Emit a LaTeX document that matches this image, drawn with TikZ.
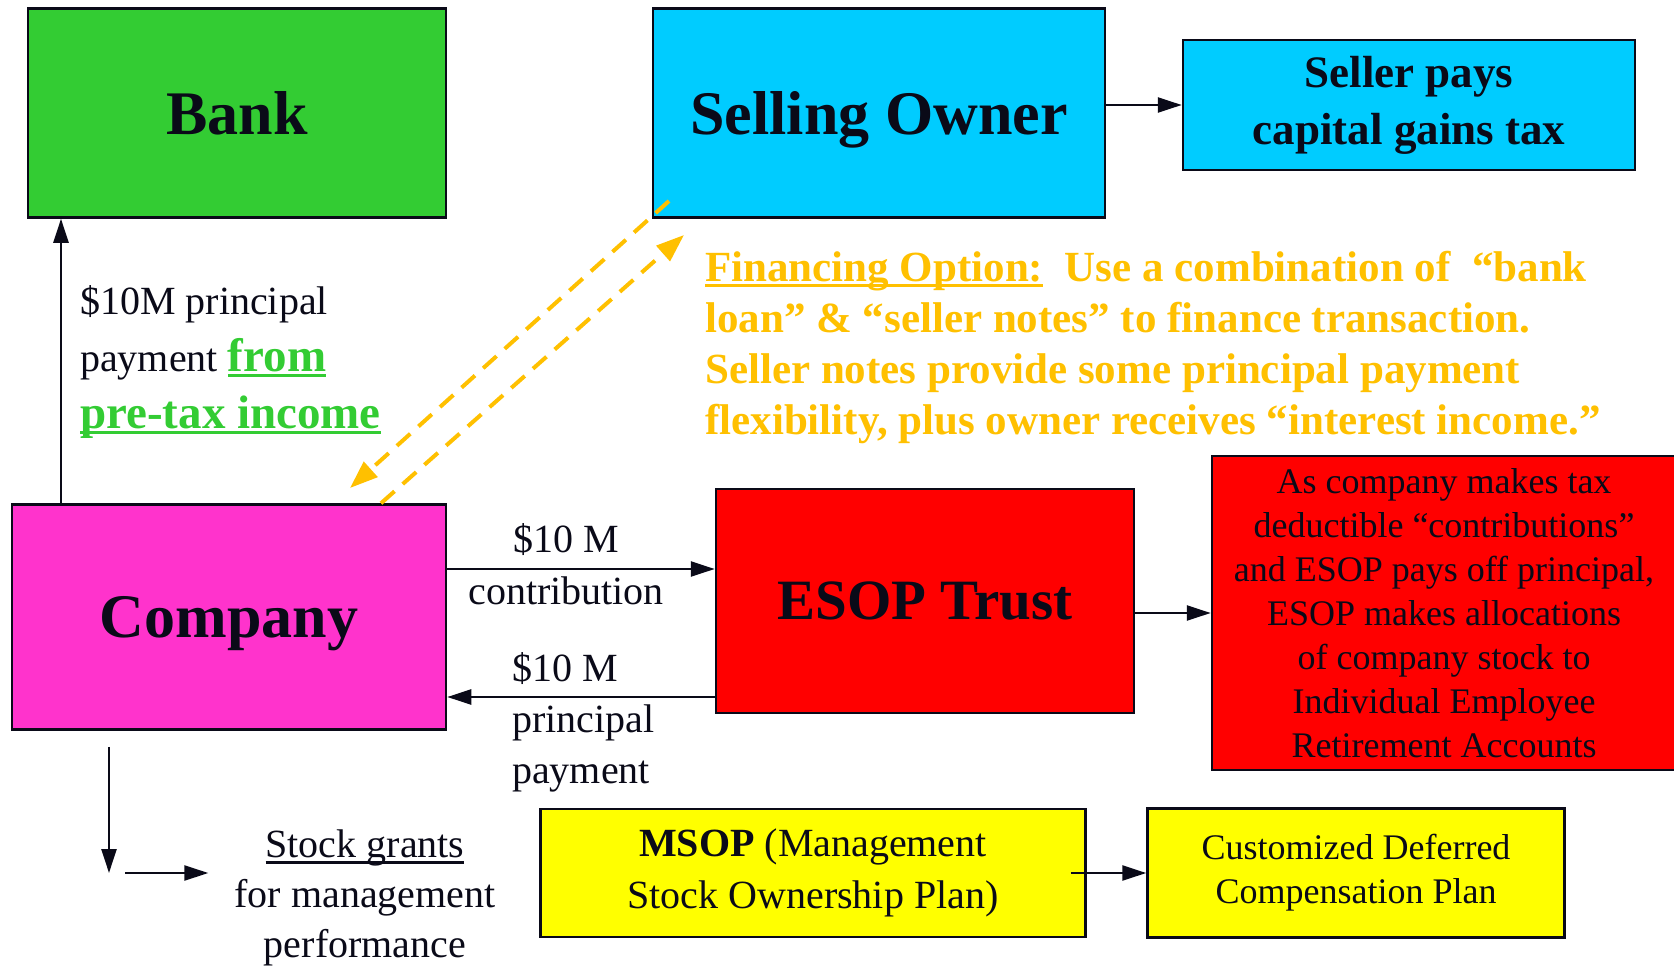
\documentclass[tikz,border=0pt]{standalone}
\usepackage{fontspec}
\setmainfont{Liberation Serif}
\usetikzlibrary{arrows.meta}

\definecolor{bankgreen}{HTML}{33CC33}
\definecolor{ownercyan}{HTML}{00CCFF}
\definecolor{companypink}{HTML}{FF33CC}
\definecolor{esopred}{HTML}{FF0000}
\definecolor{planyellow}{HTML}{FFFF00}
\definecolor{optiongold}{HTML}{FFC000}
\definecolor{inkdark}{HTML}{0A0A18}

% thick underline that cuts through the descenders
\newcommand{\undr}[1]{\setbox0\hbox{#1}\rlap{\rule[-6pt]{\wd0}{3pt}}\box0}

\newcommand{\fs}[2]{\fontsize{#1}{#2}\selectfont}

\begin{document}
\begin{tikzpicture}[x=1pt,y=-1pt,
    box/.style={draw=inkdark,line width=2.5pt,inner sep=0pt,align=center,text=inkdark},
    title/.style={box,text depth=0pt,font=\bfseries\fs{62}{70}},
    flow/.style={-{Triangle[length=24pt,width=15pt]},line width=2.5pt,draw=inkdark},
    loan/.style={-{Triangle[length=28pt,width=20pt]},line width=4pt,draw=optiongold,dash pattern=on 18pt off 11pt},
    note/.style={inner sep=0pt,text=inkdark}]

    \useasboundingbox (0,0) rectangle (1674,974);

    % Boxes
    \node[title,fill=bankgreen,minimum width=418pt,minimum height=209pt] (bank) at (237,113) {Bank};
    \node[title,fill=ownercyan,minimum width=452pt,minimum height=209pt] (owner) at (879,113) {Selling Owner};
    \node[box,fill=ownercyan,minimum width=452pt,minimum height=130pt,font=\bfseries\fs{45}{57}] (taxbox) at (1409,105) {Seller pays\\capital gains tax};
    \node[title,fill=companypink,minimum width=434pt,minimum height=225pt] (company) at (229,617) {Company};
    \node[title,fill=esopred,minimum width=418pt,minimum height=224pt,font=\bfseries\fs{57}{66}] (esop) at (925,601) {ESOP Trust};
    \node[box,fill=esopred,minimum width=464pt,minimum height=314pt,font=\fs{36}{44}] (alloc) at (1444,613)
        {As company makes tax\\deductible ``contributions''\\and ESOP pays off principal,\\ESOP makes allocations\\of company stock to\\Individual Employee\\Retirement Accounts};
    \node[box,fill=planyellow,minimum width=545pt,minimum height=128pt,font=\fs{40}{52}] (msop) at (813,873)
        {\textbf{MSOP} (Management\\Stock Ownership Plan)};
    \node[box,fill=planyellow,minimum width=417pt,minimum height=129pt,font=\fs{36}{44}] (defcomp) at (1356,873)
        {Customized Deferred\\Compensation Plan};

    % Labels
    \node[note,anchor=west,align=left,font=\fs{40}{57}] (banklabel) at (80,362)
        {\$10M principal\\payment {\color{bankgreen}\bfseries\fontsize{47}{57}\selectfont\undr{from}}\\{\color{bankgreen}\bfseries\fontsize{47}{57}\selectfont\undr{pre-tax income}}};
    \node[note,align=center,font=\fs{40}{52}] (contriblabel) at (566,564) {\$10 M\\contribution};
    \node[note,anchor=west,align=left,font=\fs{40}{51}] (repaylabel) at (512,722) {\$10 M\\principal\\payment};
    \node[note,align=center,font=\fs{40}{50}] (stocklabel) at (365,898) {\undr{Stock grants}\\for management\\performance};
    \node[note,anchor=west,align=left,text=optiongold,font=\bfseries\fs{43}{51}] (optionlabel) at (705,347)
        {\undr{Financing Option:}~~Use a combination of~~``bank\\loan'' \& ``seller notes'' to finance transaction.\\Seller notes provide some principal payment\\flexibility, plus owner receives ``interest income.''};

    % Helper points
    \coordinate (payx) at (61,0);
    \coordinate (contrib) at (0,569);
    \coordinate (repay) at (0,697);
    \coordinate (grant) at (109,873);
    \coordinate (notesout) at (669,201);
    \coordinate (notesin) at (350,488);
    \coordinate (payback) at (381,0);
    \coordinate (paytip) at (684,235);

    % Arrows
    \draw[flow] (company.north -| payx) -- (bank.south -| payx);
    \draw[flow] (owner.east |- taxbox.west) -- (taxbox.west);
    \draw[flow] (company.east |- contrib) -- (esop.west |- contrib);
    \draw[flow] (esop.west |- repay) -- (company.east |- repay);
    \draw[flow] (esop.east |- alloc.west) -- (alloc.west);
    \draw[flow,shorten <=-16pt] (msop.east) -- (defcomp.west);
    \draw[flow,shorten <=16pt] (company.south -| grant) -- (grant);
    \draw[flow,shorten <=16pt,shorten >=26pt] (grant) -- (stocklabel.west |- grant);

    % Seller notes
    \draw[loan] (notesout) -- (notesin);
    \draw[loan] (company.north -| payback) -- (paytip);
\end{tikzpicture}
\end{document}
